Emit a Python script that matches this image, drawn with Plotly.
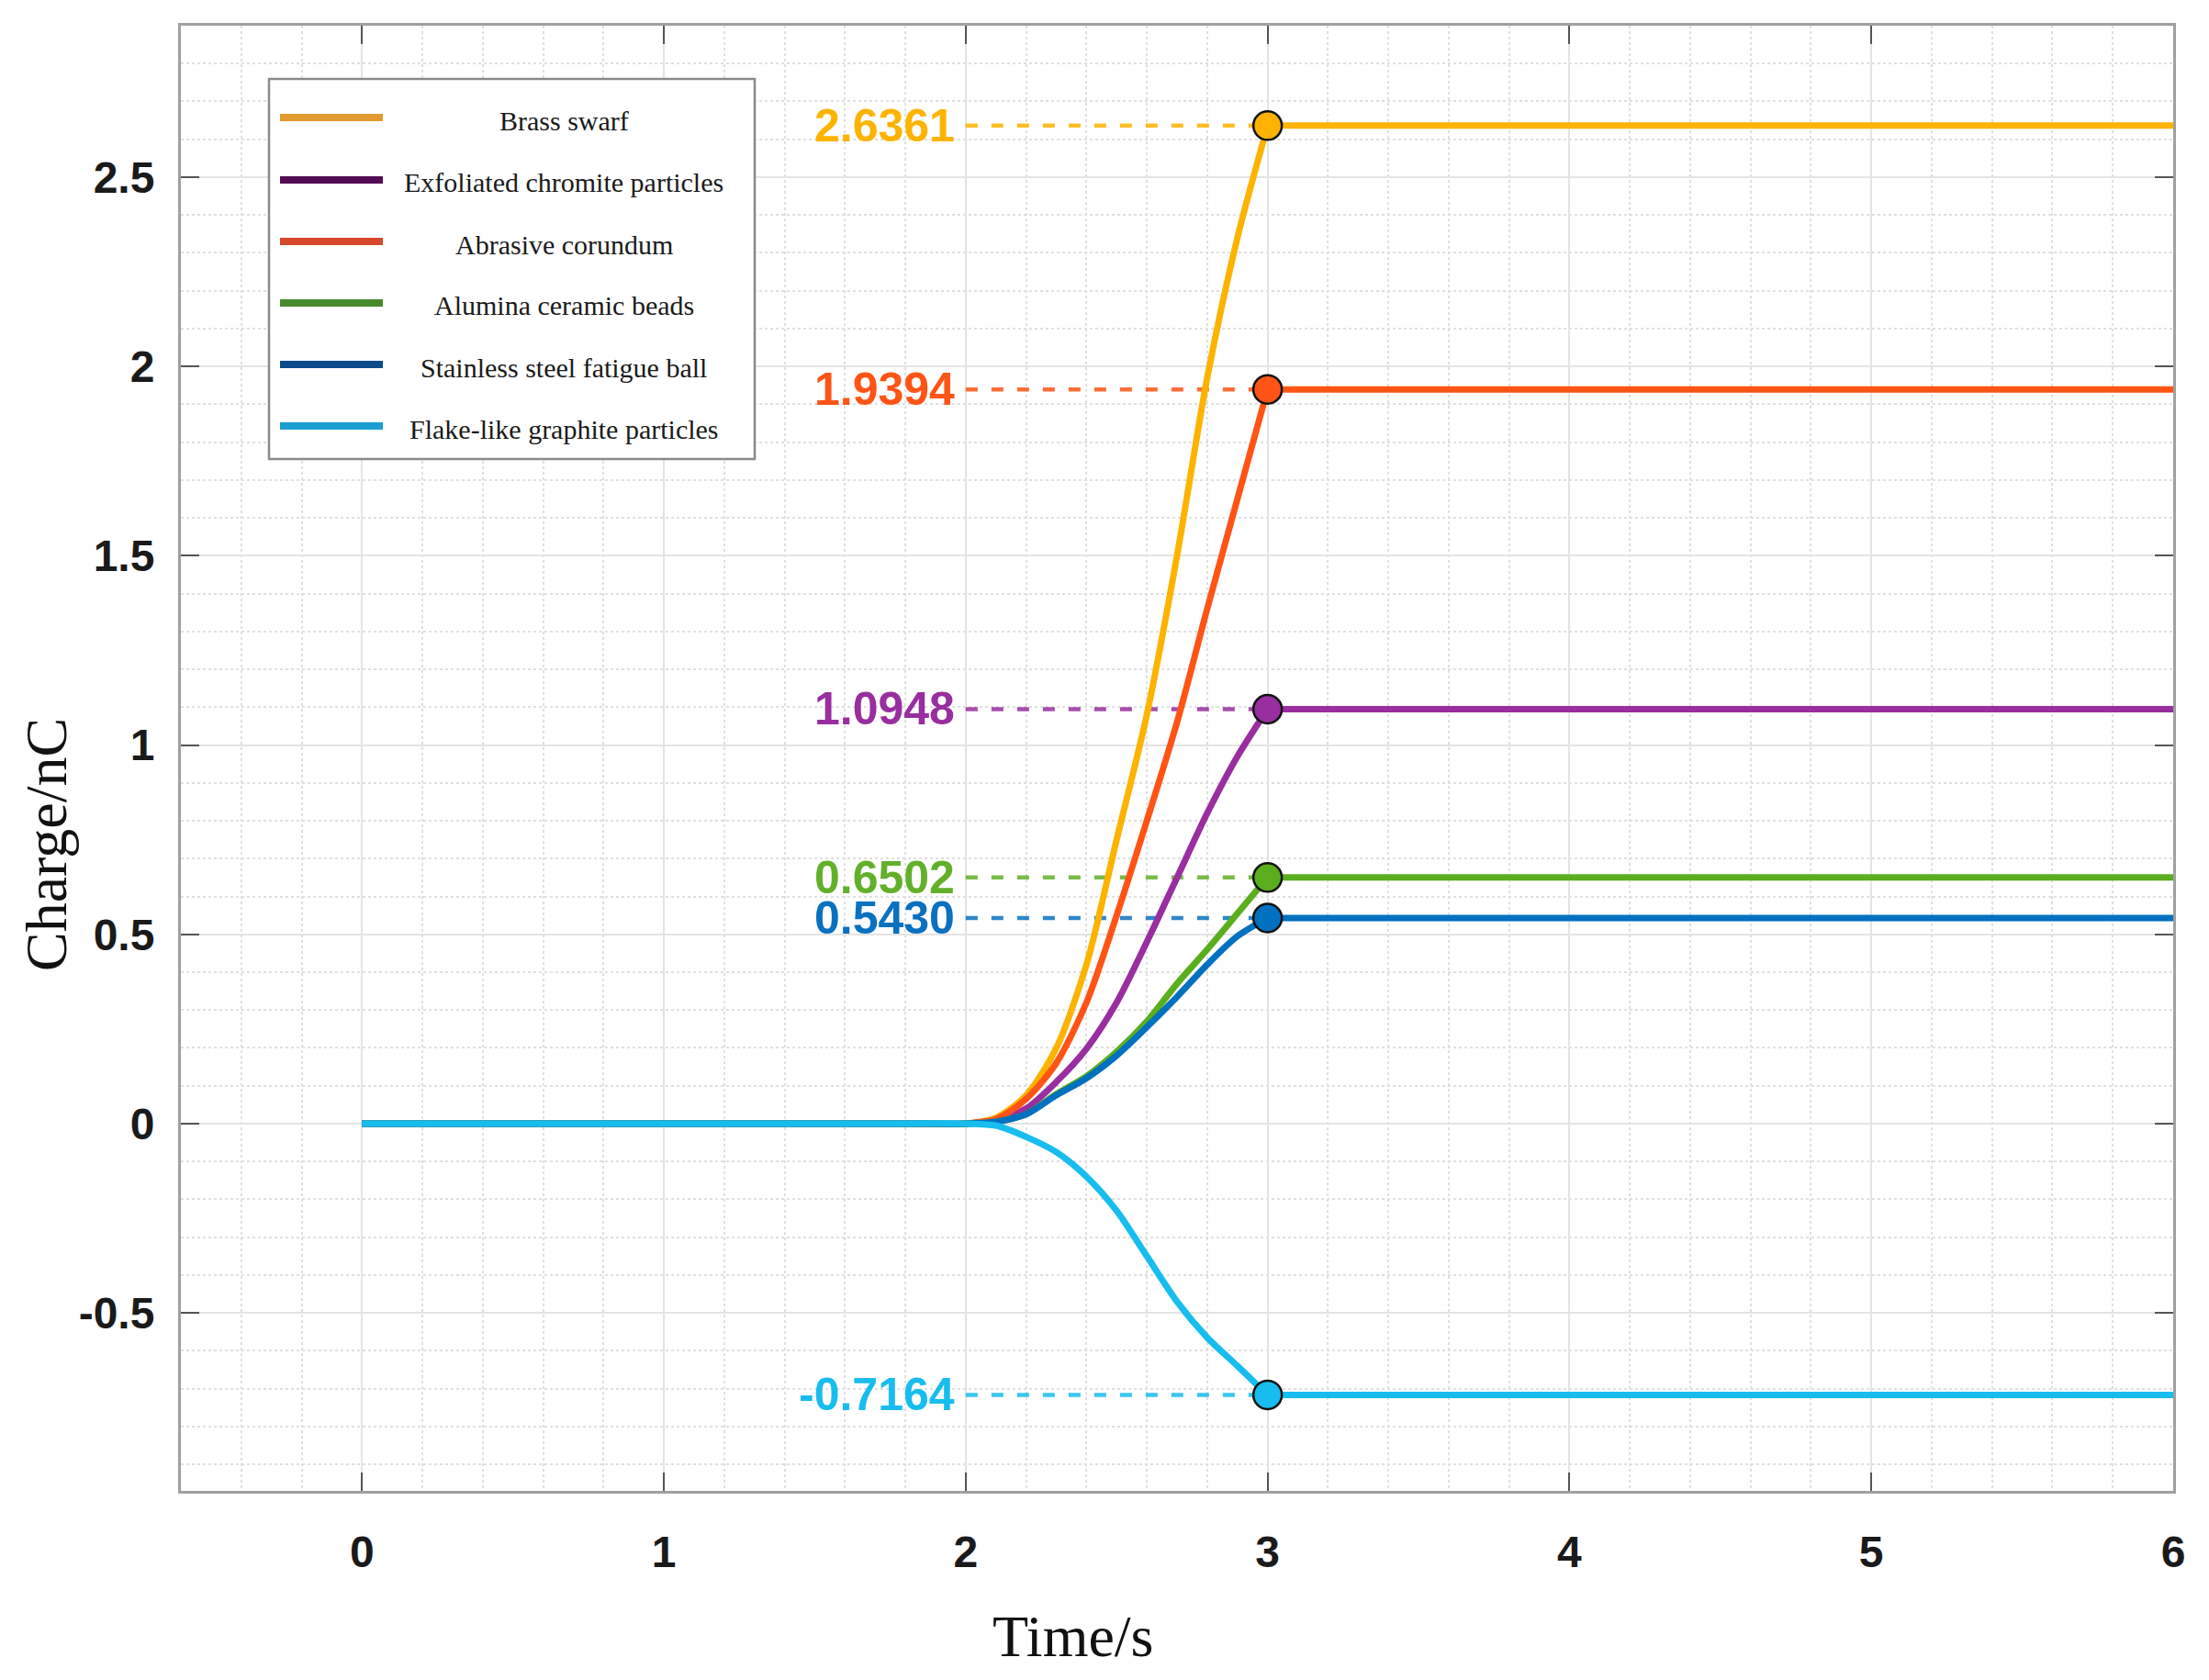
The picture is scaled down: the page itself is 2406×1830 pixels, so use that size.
import plotly.graph_objects as go

# ---------------- data ----------------
time_s = [0.0, 1.0, 1.8, 2.0, 2.1, 2.2, 2.3, 2.4, 2.5, 2.6, 2.7, 2.8, 2.9, 3.0]
t_end = 6.0

names = ["Brass swarf", "Exfoliated chromite particles", "Abrasive corundum",
         "Alumina ceramic beads", "Stainless steel fatigue ball", "Flake-like graphite particles"]

brass = [0, 0, 0, 0, 0.015, 0.075, 0.20, 0.42, 0.75, 1.08, 1.50, 1.97, 2.34, 2.6361]
chromite = [0, 0, 0, 0, 0.01, 0.04, 0.11, 0.198, 0.32, 0.48, 0.65, 0.82, 0.97, 1.0948]
corundum = [0, 0, 0, 0, 0.012, 0.065, 0.16, 0.32, 0.55, 0.80, 1.06, 1.36, 1.65, 1.9394]
alumina = [0, 0, 0, 0, 0.005, 0.025, 0.078, 0.125, 0.19, 0.27, 0.37, 0.46, 0.555, 0.6502]
steel = [0, 0, 0, 0, 0.005, 0.025, 0.075, 0.12, 0.18, 0.255, 0.335, 0.42, 0.495, 0.5430]
graphite = [0, 0, 0, 0, -0.005, -0.035, -0.075, -0.14, -0.23, -0.35, -0.47, -0.565, -0.64, -0.7164]

series = [brass, chromite, corundum, alumina, steel, graphite]

line_colors = ["#FDB300", "#982E9F", "#FF5416", "#5AAE1E", "#0070C0", "#17BDEE"]
label_colors = ["#FDB300", "#982E9F", "#FF5416", "#62B02A", "#0A70C0", "#17BDEE"]
legend_colors = ["#E39A2E", "#520C55", "#D6472B", "#478A2C", "#0C4A8C", "#1A9ED2"]

x_ticks = [0, 1, 2, 3, 4, 5, 6]
x_ticktext = ["0", "1", "2", "3", "4", "5", "6"]
y_ticks = [-0.5, 0, 0.5, 1, 1.5, 2, 2.5]
y_ticktext = ["-0.5", "0", "0.5", "1", "1.5", "2", "2.5"]

x_range = [-0.6, 6.0]
y_range = [-0.97, 2.9]

# ---------------- figure ----------------
W, H = 2406, 1830
L, R, T, B = 197, 39, 28, 206
plot_w = W - L - R
plot_h = H - T - B


def px_x(p):
    return (p - L) / plot_w


def px_y(p):
    return (H - B - p) / plot_h


fig = go.Figure()

# dashed guide lines from x=2 to the end point
for vals, col in zip(series, label_colors):
    fig.add_trace(go.Scatter(
        x=[2.0, time_s[-1]], y=[vals[-1], vals[-1]], mode="lines",
        line=dict(color=col, width=4.5, dash="13px,15px"), opacity=0.85,
        showlegend=False, hoverinfo="skip"))

# curves: rising part (smooth) + plateau
for name, vals, col in zip(names, series, line_colors):
    xs = list(time_s) + [None, time_s[-1], t_end]
    ys = list(vals) + [None, vals[-1], vals[-1]]
    fig.add_trace(go.Scatter(
        x=xs, y=ys, mode="lines", name=name,
        line=dict(color=col, width=7, shape="spline", smoothing=0.8),
        connectgaps=False, showlegend=False))

# end-point markers
for vals, col in zip(series, line_colors):
    fig.add_trace(go.Scatter(
        x=[time_s[-1]], y=[vals[-1]], mode="markers",
        marker=dict(size=31, color=col, line=dict(color="#111111", width=2.5)),
        showlegend=False))

# value labels
annotations = []
for vals, col in zip(series, label_colors):
    annotations.append(dict(
        x=2.0, y=vals[-1], xref="x", yref="y", text=f"{vals[-1]:.4f}",
        showarrow=False, xanchor="right", yanchor="middle", xshift=-10,
        font=dict(family="Liberation Sans, Arial, sans-serif", size=50,
                  color=col, weight="bold")))

# axis titles
serif = "Liberation Serif, Times New Roman, serif"
annotations.append(dict(
    x=px_x(1169), y=px_y(1782), xref="paper", yref="paper", text="Time/s",
    showarrow=False, xanchor="center", yanchor="middle",
    font=dict(family=serif, size=64, color="#111111")))
annotations.append(dict(
    x=px_x(50), y=px_y(920), xref="paper", yref="paper", text="Charge/nC",
    showarrow=False, xanchor="center", yanchor="middle", textangle=-90,
    font=dict(family=serif, size=64, color="#111111")))

# custom legend
shapes = [dict(type="rect", xref="paper", yref="paper",
               x0=px_x(293), x1=px_x(822), y0=px_y(500), y1=px_y(86),
               fillcolor="white", line=dict(color="#8a8a8a", width=2.5),
               layer="above")]
row_y = [128, 196, 263, 330, 397, 464]
for name, col, ry in zip(names, legend_colors, row_y):
    shapes.append(dict(type="line", xref="paper", yref="paper",
                       x0=px_x(305), x1=px_x(417), y0=px_y(ry), y1=px_y(ry),
                       line=dict(color=col, width=8), layer="above"))
    annotations.append(dict(
        x=px_x(614), y=px_y(ry + 3), xref="paper", yref="paper", text=name,
        showarrow=False, xanchor="center", yanchor="middle",
        font=dict(family=serif, size=30, color="#1a1a1a")))

axis_common = dict(
    showline=True, linecolor="#a0a0a0", linewidth=3, mirror="ticks",
    ticks="inside", ticklen=20, tickwidth=2, tickcolor="#555555",
    showgrid=True, gridcolor="#e4e4e4", gridwidth=2, zeroline=False,
    tickfont=dict(family="Liberation Sans, Arial, sans-serif", size=48,
                  color="#1a1a1a", weight="bold"),
)

fig.update_layout(
    width=W, height=H, autosize=False,
    margin=dict(l=L, r=R, t=T, b=B),
    paper_bgcolor="white", plot_bgcolor="white",
    showlegend=False,
    annotations=annotations, shapes=shapes,
    xaxis=dict(range=x_range, tickmode="array", tickvals=x_ticks, ticktext=x_ticktext,
               ticklabelstandoff=22,
               minor=dict(dtick=0.2, showgrid=True, gridcolor="#e0e0e0",
                          griddash="dot", gridwidth=1.5, ticks=""),
               **axis_common),
    yaxis=dict(range=y_range, tickmode="array", tickvals=y_ticks, ticktext=y_ticktext,
               ticklabelstandoff=16,
               minor=dict(dtick=0.1, tick0=0, showgrid=True, gridcolor="#e0e0e0",
                          griddash="dot", gridwidth=1.5, ticks=""),
               **axis_common),
)

fig.write_html("out.html")
